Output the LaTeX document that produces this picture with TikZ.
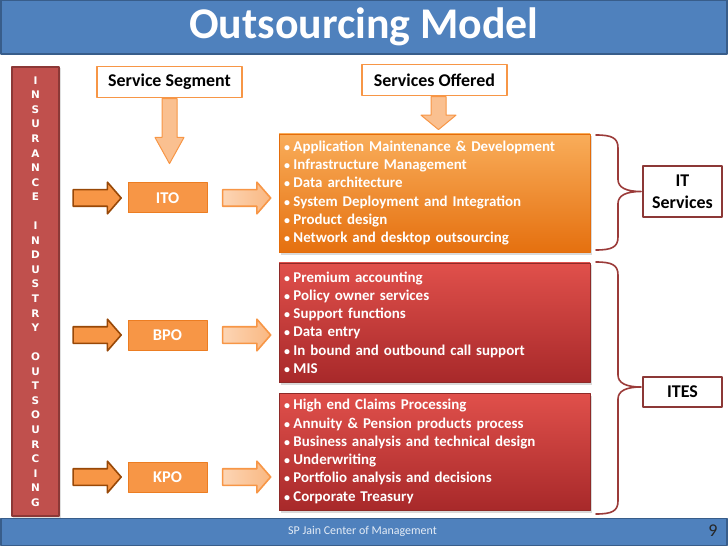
\documentclass[tikz,border=0pt]{standalone}
\usepackage{fontspec}
\setmainfont{Carlito}
\newfontfamily\barfont{DejaVu Sans}
\usetikzlibrary{positioning,calc,shapes.arrows,shadows}

\definecolor{slideblue}{HTML}{4F81BD}
\definecolor{slideblueline}{HTML}{385D8A}
\definecolor{barred}{HTML}{C0504D}
\definecolor{barredline}{HTML}{8C3836}
\definecolor{segorange}{HTML}{F79646}
\definecolor{segorangeline}{HTML}{E46C0A}
\definecolor{arrowbrown}{HTML}{984807}
\definecolor{arrowpale}{HTML}{FCD5B5}
\definecolor{arrowlight}{HTML}{FAC090}
\definecolor{offertop}{HTML}{F9AD5A}
\definecolor{offerbot}{HTML}{E5700F}
\definecolor{redtop}{HTML}{E0504B}
\definecolor{redbot}{HTML}{A8292A}
\definecolor{redline}{HTML}{8E2A28}
\definecolor{bracered}{HTML}{9B3B39}
\definecolor{footgray}{HTML}{E4ECF6}
\definecolor{pagegray}{HTML}{262626}

\newcommand{\bul}{{\fontsize{12}{12}\selectfont\textbullet}\hspace{3.5bp}}

\tikzset{
	headbox/.style={draw=segorange, line width=1.2bp, fill=white, inner sep=0pt, minimum width=145bp, minimum height=31bp, font=\fontsize{18}{20}\selectfont\bfseries},
	segbox/.style={draw=segorangeline!60!segorange, line width=1bp, fill=segorange, inner sep=0pt, minimum width=79bp, minimum height=30bp, text=white, font=\fontsize{16.5}{18}\selectfont\bfseries},
	offerbox/.style={line width=0.8bp, minimum width=311bp, text width=301bp, inner xsep=5bp, align=left, text=white, font=\fontsize{15}{18.3}\selectfont\bfseries, drop shadow={opacity=0.3, shadow xshift=2bp, shadow yshift=-2.5bp}},
	orangefill/.style={draw=segorangeline, top color=offertop, bottom color=offerbot},
	redfill/.style={draw=redline, top color=redtop, bottom color=redbot},
	inarrow/.style={single arrow, draw=arrowbrown, line width=1.6bp, fill=segorange, minimum height=48bp, inner sep=7.5bp, single arrow head extend=7.5bp, single arrow tip angle=98},
	outarrow/.style={inarrow, draw=segorange, left color=arrowpale, right color=arrowlight!80!segorange},
	downarrow/.style={single arrow, shape border rotate=270, draw=segorange, line width=1bp, fill=arrowlight, inner sep=7bp, single arrow head extend=7bp},
	labelbox/.style={draw=barredline, line width=1.2bp, fill=white, minimum width=79bp, align=center, font=\fontsize{18}{22}\selectfont\bfseries},
	bracestyle/.style={draw=bracered, line width=1.6bp, line cap=round}
}

\begin{document}
\begin{tikzpicture}[x=1bp, y=-1bp, line join=round]
	\useasboundingbox (0,0) rectangle (728,546);
	% title and footer bars
	\node[fill=slideblue, draw=slideblueline, line width=1.5bp, minimum width=726bp, minimum height=54bp, text=white, font=\fontsize{44}{48}\selectfont\bfseries] (title) at (364,27) {Outsourcing Model};
	\node[fill=slideblue, draw=slideblueline, line width=1.5bp, minimum width=726bp, minimum height=27bp] (footer) at (364,532) {};
	\node[anchor=west, inner sep=0pt, text=footgray, font=\fontsize{12}{14}\selectfont] (credit) at (288,531) {SP Jain Center of Management};
	\node[anchor=east, text=pagegray, font=\fontsize{18}{20}\selectfont] (pagenum) at (721,531) {9};
	% vertical bar
	\node[draw=barredline, line width=1.2bp, fill=barred, minimum width=47bp, minimum height=449bp, inner sep=0pt, align=center, text=white, font=\barfont\bfseries\fontsize{10.5}{14.6}\selectfont, drop shadow={opacity=0.25, shadow xshift=1.5bp, shadow yshift=-1.5bp}] (bar) at (35.5,291.5) {I\\N\\S\\U\\R\\A\\N\\C\\E\\[14.6bp]I\\N\\D\\U\\S\\T\\R\\Y\\[14.6bp]O\\U\\T\\S\\O\\U\\R\\C\\I\\N\\G};
	% column heads
	\node[headbox] (segment) at (169.5,82) {Service Segment};
	\node[headbox] (offered) at (434.5,80) {Services Offered};
	\node[downarrow, minimum height=65bp, single arrow tip angle=58, anchor=tail] (segdown) at (segment.south) {};
	\node[downarrow, minimum height=33bp, single arrow head extend=10bp, single arrow tip angle=101, anchor=tail] (offerdown) at ([xshift=4bp]offered.south) {};
	% services offered
	\node[offerbox, orangefill, minimum height=118bp] (offer1) at (434.5,193) {\bul Application Maintenance \& Development\\
		\bul Infrastructure Management\\ \bul Data architecture\\
		\bul System Deployment and Integration\\ \bul Product design\\
		\bul Network and desktop outsourcing};
	\node[offerbox, redfill, minimum height=119bp] (offer2) at (434.5,322.5) {\bul Premium accounting\\
		\bul Policy owner services\\ \bul Support functions\\
		\bul Data entry\\ \bul In bound and outbound call support\\
		\bul MIS};
	\node[offerbox, redfill, minimum height=117bp] (offer3) at (434.5,451.5) {\bul High end Claims Processing\\
		\bul Annuity \& Pension products process\\
		\bul Business analysis and technical design\\
		\bul Underwriting\\ \bul Portfolio analysis and decisions\\
		\bul Corporate Treasury};
	% segments with arrows
	\foreach \seg/\y/\target in {ITO/198/offer1, BPO/335/offer2, KPO/477/offer3}
	{\node[segbox] (\seg) at (167.5,\y) {\seg};
		\node[inarrow] (in\seg) at ($(bar.east |- \seg)!0.5!(\seg.west)$) {};
		\node[outarrow] (out\seg) at ($(\seg.east)!0.5!(\target.west |- \seg)$) {};}
	% groups
	\node[labelbox, minimum height=51bp] (its) at (682.5,191.5) {IT\\Services};
	\node[labelbox, minimum height=30bp] (ites) at (682.5,392) {ITES};
	\foreach \ytop/\ytip/\ybot in {135/191.5/250, 262/387/514}
	{\draw[bracestyle] (596,\ytop) .. controls (612,\ytop) and (618,\ytop+3) .. (618,\ytop+13) -- (618,\ytip-12) .. controls (618,\ytip-4) and (626,\ytip) .. (641,\ytip) .. controls (626,\ytip) and (618,\ytip+4) .. (618,\ytip+12) -- (618,\ybot-13) .. controls (618,\ybot-3) and (612,\ybot) .. (596,\ybot);}
\end{tikzpicture}
\end{document}
